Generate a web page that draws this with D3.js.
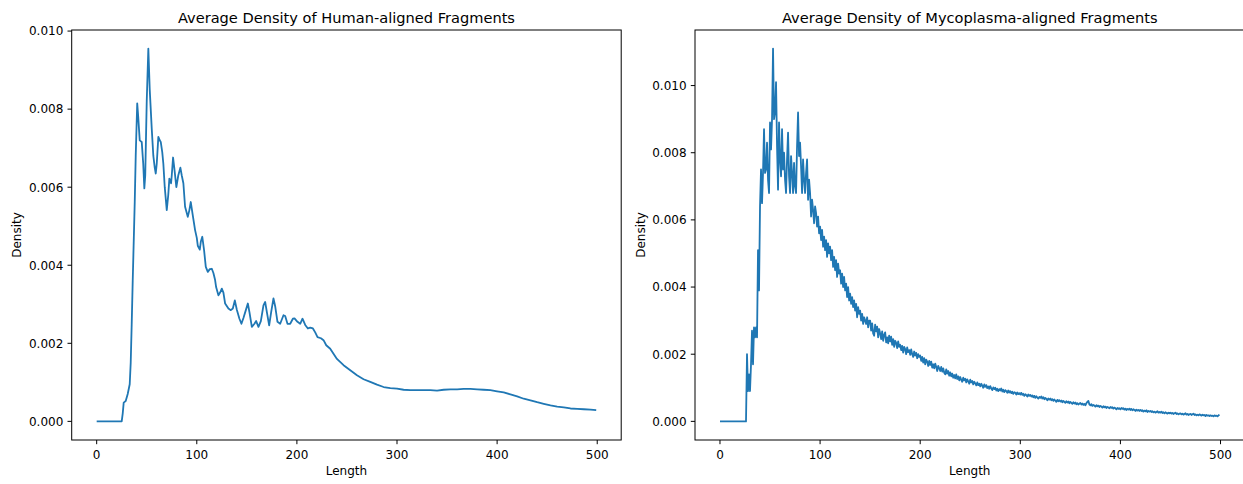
<!DOCTYPE html>
<html>
<head>
<meta charset="utf-8">
<script src="https://cdn.jsdelivr.net/npm/d3@7"></script>
<style>
  html, body { margin: 0; padding: 0; background: #fff; }
  svg { display: block; font-family: "DejaVu Sans", sans-serif; }
</style>
</head>
<body>
<svg id="chart" width="1243" height="484"></svg>
<script>
// ---------- data ----------
const titles = ["Average Density of Human-aligned Fragments", "Average Density of Mycoplasma-aligned Fragments"];
const xLabel = "Length";
const yLabel = "Density";
const xTicks = [0, 100, 200, 300, 400, 500];
const yTicks = [0, 0.002, 0.004, 0.006, 0.008, 0.010];

const humanLength = [0,25,26,27,29,31,33,34,35,36,37,38,39,40.5,41.5,43,45,46.5,47.6,48.5,50,51.6,53,55,56.6,58,59,60,61.6,63,64,65.5,66.6,68,70,71.5,72.6,74.3,75,76.3,77.5,79.6,81.5,83.6,85,86.6,88.3,91,92.5,94,96,98.3,100,101,103,104,105.5,107.3,109,111,113,115,116.6,118.3,119.3,121.6,123.3,125,126.6,128.3,131.6,134,136,138,140,142.6,144.6,146.6,149,151,152.6,155,157.6,159.3,161.6,164,166.6,168.3,170,172.3,174.3,176.6,178.3,180.6,183.3,186.6,188.3,190.6,193.3,196,197.6,200.6,203.3,205.6,208.3,211,213.3,216,218.3,220.6,224,226.6,229.3,233.3,240,246.6,253.3,260,266.6,273.3,280,286.6,293.3,300,306.6,313.3,320,326.6,333.3,340,346.6,353.3,360,366.6,373.3,380,386.6,393.3,400,406.6,413.3,420,426.6,433.3,440,446.6,453.3,460,466.6,473.3,480,486.6,493.3,499];
const humanDensity = [0,0,0.0002,0.00048,0.00052,0.0007,0.00095,0.0015,0.0025,0.0036,0.0046,0.0056,0.0068,0.00815,0.0078,0.0072,0.00716,0.0066,0.00597,0.0063,0.0082,0.00955,0.0085,0.0075,0.0068,0.0065,0.00635,0.0066,0.00729,0.0072,0.00716,0.0069,0.0066,0.0060,0.00541,0.0058,0.00622,0.0061,0.0063,0.00676,0.0065,0.0060,0.0063,0.0065,0.0063,0.0061,0.0055,0.00524,0.0054,0.00562,0.00528,0.0049,0.0047,0.0045,0.0044,0.0046,0.00473,0.00438,0.00396,0.00383,0.0039,0.00391,0.0038,0.00362,0.00344,0.00323,0.0033,0.0034,0.0033,0.00302,0.00289,0.00285,0.00289,0.0031,0.00286,0.00263,0.0025,0.00265,0.00285,0.00302,0.0028,0.00242,0.0025,0.00257,0.00242,0.00257,0.00297,0.00306,0.0028,0.00246,0.0028,0.00315,0.00295,0.00255,0.0025,0.00272,0.0027,0.0025,0.0025,0.00263,0.00264,0.00255,0.0025,0.00263,0.00247,0.00238,0.0024,0.00238,0.00228,0.00216,0.00213,0.00208,0.00195,0.00186,0.0016,0.00144,0.00131,0.00118,0.00108,0.00101,0.00094,0.00088,0.00085,0.00084,0.00081,0.0008,0.0008,0.0008,0.0008,0.00079,0.00081,0.00082,0.00082,0.00083,0.00083,0.00082,0.00081,0.0008,0.00077,0.00074,0.00069,0.00064,0.00058,0.00054,0.00049,0.00045,0.00041,0.00038,0.00036,0.00033,0.00032,0.00031,0.0003,0.00029];

// Mycoplasma: one value per length 0..499 (rows of 10)
const mycoDensity = [
0,0,0,0,0,0,0,0,0,0,
0,0,0,0,0,0,0,0,0,0,
0,0,0,0,0,0,0,0.0020,0.0009,0.0014,
0.0009,0.0017,0.0027,0.0017,0.0028,0.0025,0.0028,0.0025,0.0051,0.0039,
0.0064,0.0075,0.0065,0.0074,0.0087,0.0074,0.0075,0.0083,0.0072,0.0068,
0.0089,0.0081,0.0090,0.0111,0.0090,0.0092,0.0101,0.0082,0.0069,0.0089,
0.0078,0.0073,0.0087,0.0075,0.0080,0.0072,0.0068,0.0078,0.0086,0.0073,
0.0068,0.0079,0.0074,0.0068,0.0077,0.0070,0.0068,0.0082,0.0092,0.0079,
0.0083,0.0076,0.0068,0.0078,0.0072,0.0068,0.0074,0.0078,0.0066,0.0072,
0.0068,0.0061,0.0066,0.0063,0.0059,0.0064,0.0062,0.0058,0.0061,0.0056,
0.0058,0.0054,0.0057,0.0052,0.0055,0.0051,0.0054,0.0049,0.0053,0.0050,
0.0052,0.0048,0.0051,0.0046,0.0049,0.0045,0.0048,0.0043,0.0047,0.0044,
0.0045,0.0041,0.0044,0.0040,0.0043,0.0039,0.0041,0.0037,0.0040,0.0036,
0.0038,0.0035,0.0037,0.0034,0.0036,0.0033,0.0035,0.0031,0.0034,0.0032,
0.0033,0.0030,0.0032,0.0029,0.0031,0.0030,0.0029,0.0031,0.0028,0.0030,
0.00300,0.00270,0.00292,0.00262,0.00255,0.00288,0.00268,0.00282,0.00250,0.00275,
0.00262,0.00245,0.00268,0.00240,0.00258,0.00265,0.00235,0.00250,0.00232,0.00255,
0.00238,0.00252,0.00228,0.00245,0.00222,0.00240,0.00234,0.00218,0.00238,0.00222,
0.00228,0.00212,0.00225,0.00205,0.00222,0.00215,0.00200,0.00220,0.00206,0.00212,
0.00198,0.00214,0.00200,0.00192,0.00208,0.00196,0.00204,0.00188,0.00200,0.00192,
0.00196,0.00180,0.00192,0.00175,0.00188,0.00170,0.00184,0.00178,0.00165,0.00180,
0.00168,0.00178,0.00160,0.00170,0.00158,0.00172,0.00162,0.00150,0.00165,0.00158,
0.00150,0.00162,0.00148,0.00158,0.00145,0.00140,0.00155,0.00142,0.00150,0.00136,
0.00146,0.00134,0.00142,0.00130,0.00138,0.00128,0.00140,0.00126,0.00134,0.00122,
0.00132,0.00124,0.00118,0.00130,0.00122,0.00127,0.00116,0.00125,0.00119,0.00112,
0.00124,0.00116,0.00120,0.00110,0.00118,0.00113,0.00107,0.00116,0.00108,0.00112,
0.00104,0.00112,0.00106,0.00100,0.00110,0.00103,0.00108,0.00099,0.00104,0.00097,
0.00105,0.00098,0.00093,0.00101,0.00096,0.00100,0.00092,0.00097,0.00090,0.00096,
0.00092,0.00098,0.00089,0.00094,0.00087,0.00093,0.00090,0.00085,0.00092,0.00086,
0.00090,0.00084,0.00088,0.00082,0.00087,0.00085,0.00080,0.00086,0.00081,0.00084,
0.00080,0.00085,0.00079,0.00082,0.00076,0.00081,0.00078,0.00074,0.00080,0.00076,
0.00079,0.00074,0.00077,0.00072,0.00076,0.00070,0.00075,0.00071,0.00068,0.00073,
0.00070,0.00074,0.00068,0.00072,0.00066,0.00070,0.00067,0.00063,0.00068,0.00065,
0.00068,0.00063,0.00066,0.00061,0.00065,0.00062,0.00058,0.00064,0.00060,0.00063,
0.00059,0.00062,0.00057,0.00061,0.00058,0.00055,0.00060,0.00056,0.00059,0.00054,
0.00058,0.00055,0.00052,0.00057,0.00053,0.00056,0.00051,0.00054,0.00050,0.00053,
0.00055,0.00050,0.00053,0.00049,0.00052,0.00048,0.00054,0.00058,0.00061,0.00050,
0.00048,0.00051,0.00046,0.00049,0.00047,0.00044,0.00048,0.00045,0.00047,0.00043,
0.00046,0.00044,0.00041,0.00045,0.00042,0.00044,0.00040,0.00043,0.00041,0.00039,
0.00043,0.00040,0.00042,0.00038,0.00041,0.00039,0.00036,0.00040,0.00037,0.00039,
0.00036,0.00040,0.00037,0.00039,0.00035,0.00038,0.00034,0.00037,0.00035,0.00038,
0.00034,0.00037,0.00033,0.00036,0.00034,0.00031,0.00035,0.00032,0.00034,0.00031,
0.00034,0.00031,0.00033,0.00029,0.00032,0.00030,0.00033,0.00028,0.00031,0.00029,
0.00031,0.00028,0.00030,0.00027,0.00029,0.00026,0.00028,0.00030,0.00026,0.00028,
0.00026,0.00029,0.00025,0.00027,0.00024,0.00027,0.00025,0.00023,0.00026,0.00024,
0.00026,0.00023,0.00025,0.00022,0.00024,0.00026,0.00022,0.00024,0.00021,0.00023,
0.00024,0.00021,0.00023,0.00020,0.00022,0.00024,0.00020,0.00022,0.00019,0.00021,
0.00022,0.00019,0.00021,0.00023,0.00019,0.00021,0.00018,0.00020,0.00018,0.00021,
0.00019,0.00017,0.00020,0.00018,0.00019,0.00016,0.00019,0.00017,0.00018,0.00016,
0.00018,0.00016,0.00017,0.00015,0.00018,0.00016,0.00017,0.00015,0.00018,0.00020
];
const mycoLength = mycoDensity.map((d, i) => i);

// ---------- layout ----------
const svg = d3.select("#chart");
const plotTop = 30, plotBottom = 440;
const panels = [
  { title: titles[0], lengths: humanLength, values: humanDensity, left: 71.7, right: 621.2 },
  { title: titles[1], lengths: mycoLength, values: mycoDensity, left: 695, right: 1244.5 }
];
const color = "#1f77b4";
const tickLen = 4.2, pad = 4.2;

panels.forEach(p => {
  const xr = d3.extent(p.lengths), yr = d3.extent(p.values);
  const xm = (xr[1] - xr[0]) * 0.05, ym = (yr[1] - yr[0]) * 0.05;
  const x = d3.scaleLinear().domain([xr[0] - xm, xr[1] + xm]).range([p.left, p.right]);
  const y = d3.scaleLinear().domain([yr[0] - ym, yr[1] + ym]).range([plotBottom, plotTop]);
  const g = svg.append("g");

  // line
  const line = d3.line().x((d, i) => x(p.lengths[i])).y(d => y(d));
  g.append("path").datum(p.values)
    .attr("d", line)
    .attr("fill", "none")
    .attr("stroke", color)
    .attr("stroke-width", 1.8)
    .attr("stroke-linejoin", "round");

  // spines
  g.append("rect")
    .attr("x", p.left).attr("y", plotTop)
    .attr("width", p.right - p.left).attr("height", plotBottom - plotTop)
    .attr("fill", "none").attr("stroke", "#000").attr("stroke-width", 1);

  // x axis ticks
  xTicks.forEach(t => {
    const px = x(t);
    g.append("line").attr("x1", px).attr("x2", px)
      .attr("y1", plotBottom).attr("y2", plotBottom + tickLen)
      .attr("stroke", "#000").attr("stroke-width", 1);
    g.append("text").attr("x", px).attr("y", 458.5)
      .attr("text-anchor", "middle").attr("font-size", 12).attr("fill", "#000")
      .text(d3.format("d")(t));
  });
  // y axis ticks
  yTicks.forEach(t => {
    const py = y(t);
    if (py < plotTop - 0.5) return;
    g.append("line").attr("x1", p.left - tickLen).attr("x2", p.left)
      .attr("y1", py).attr("y2", py)
      .attr("stroke", "#000").attr("stroke-width", 1);
    g.append("text").attr("x", p.left - tickLen - pad).attr("y", py)
      .attr("dy", "0.36em")
      .attr("text-anchor", "end").attr("font-size", 12).attr("fill", "#000")
      .text(d3.format(".3f")(t));
  });

  // labels
  g.append("text").attr("x", (p.left + p.right) / 2).attr("y", 474.5)
    .attr("text-anchor", "middle").attr("font-size", 12).attr("fill", "#000")
    .text(xLabel);
  g.append("text")
    .attr("transform", `translate(${p.left - 50.3},${(plotTop + plotBottom) / 2}) rotate(-90)`)
    .attr("text-anchor", "middle").attr("font-size", 12).attr("fill", "#000")
    .text(yLabel);
  g.append("text").attr("x", (p.left + p.right) / 2).attr("y", 22.5)
    .attr("text-anchor", "middle").attr("font-size", 14.6).attr("fill", "#000")
    .text(p.title);
});
</script>
</body>
</html>
